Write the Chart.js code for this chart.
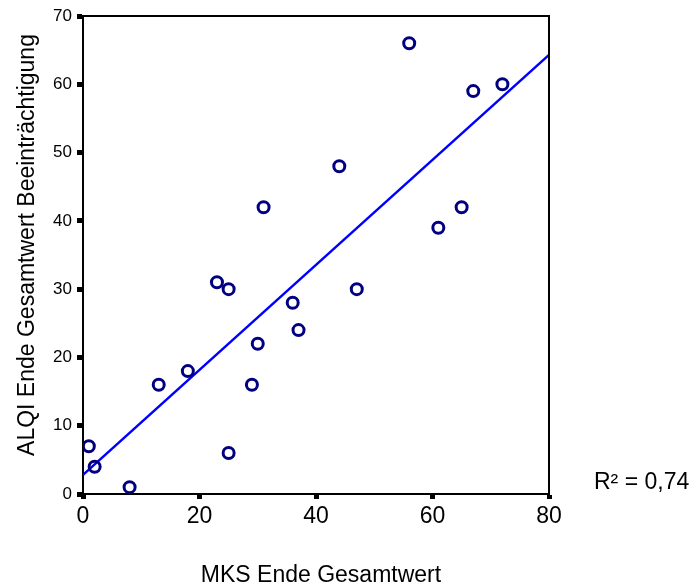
<!DOCTYPE html>
<html>
<head>
<meta charset="utf-8">
<script src="https://cdn.jsdelivr.net/npm/chart.js@4"></script>
<style>
  html, body { margin: 0; padding: 0; background: #fff; }
  #wrap { width: 692px; height: 588px; }
</style>
</head>
<body>
<div id="wrap"><canvas id="scatterChart" width="692" height="588"></canvas></div>
<script>
// values
const mksEnde = [1, 2, 8, 13, 18, 23, 25, 25, 29, 30, 31, 36, 37, 44, 47, 56, 61, 65, 67, 72];
const alqiEnde = [7, 4, 1, 16, 18, 31, 30, 6, 16, 22, 42, 28, 24, 48, 30, 66, 39, 42, 59, 60];

// end points of the linear fit line
const fitX = [0, 80];
const fitY = [2.8, 64.3];

const xTitle = 'MKS Ende Gesamtwert';
const yTitle = 'ALQI Ende Gesamtwert Beeinträchtigung';
const rSquared = 'R² = 0,74';

const fontFamily = '"Liberation Sans", Arial, sans-serif';

// frame + axis titles + R² text
const extrasPlugin = {
  id: 'extras',
  afterDraw(chart) {
    const { ctx, chartArea } = chart;
    ctx.save();
    ctx.strokeStyle = '#000';
    ctx.lineWidth = 2;
    ctx.beginPath();
    ctx.moveTo(chartArea.left, chartArea.top);
    ctx.lineTo(chartArea.right, chartArea.top);
    ctx.lineTo(chartArea.right, chartArea.bottom);
    ctx.stroke();

    ctx.fillStyle = '#000';
    ctx.font = '23px ' + fontFamily;
    ctx.textAlign = 'center';
    ctx.textBaseline = 'middle';
    ctx.fillText(xTitle, 321, 576);

    ctx.save();
    ctx.translate(28, 245);
    ctx.rotate(-Math.PI / 2);
    ctx.fillText(yTitle, 0, 0);
    ctx.restore();

    ctx.font = '23px ' + fontFamily;
    ctx.textAlign = 'left';
    ctx.fillText(rSquared, 594, 483);
    ctx.restore();
  }
};

const ctx = document.getElementById('scatterChart').getContext('2d');
const scatterChart = new Chart(ctx, {
  type: 'scatter',
  data: {
    datasets: [{
      label: 'Fit',
      type: 'line',
      data: fitX.map((x, i) => ({ x: x, y: fitY[i] })),
      borderColor: '#0000ff',
      borderWidth: 2.5,
      pointRadius: 0,
      fill: false,
      order: 2
    }, {
      label: 'Werte',
      data: mksEnde.map((x, i) => ({ x: x, y: alqiEnde[i] })),
      pointRadius: 5.5,
      pointBorderWidth: 3,
      pointBorderColor: '#000080',
      pointBackgroundColor: 'rgba(255,255,255,0)',
      order: 1
    }]
  },
  options: {
    responsive: false,
    animation: false,
    events: [],
    layout: {
      padding: { top: 16, right: 143, left: 0, bottom: 0 }
    },
    plugins: {
      legend: { display: false },
      tooltip: { enabled: false }
    },
    scales: {
      x: {
        type: 'linear',
        min: 0,
        max: 80,
        afterFit: function(scale) { scale.height = 94; },
        ticks: {
          stepSize: 20,
          color: '#000',
          padding: 4,
          font: { family: fontFamily, size: 23 }
        },
        grid: {
          drawOnChartArea: false,
          drawTicks: true,
          tickLength: 5,
          tickWidth: 5,
          tickColor: '#000'
        },
        border: { display: true, color: '#000', width: 2 }
      },
      y: {
        type: 'linear',
        min: 0,
        max: 70,
        afterFit: function(scale) { scale.width = 83; },
        ticks: {
          stepSize: 10,
          color: '#000',
          padding: 5,
          font: { family: fontFamily, size: 17 }
        },
        grid: {
          drawOnChartArea: false,
          drawTicks: true,
          tickLength: 6,
          tickWidth: 5,
          tickColor: '#000'
        },
        border: { display: true, color: '#000', width: 2 }
      }
    }
  },
  plugins: [extrasPlugin]
});
</script>
</body>
</html>
